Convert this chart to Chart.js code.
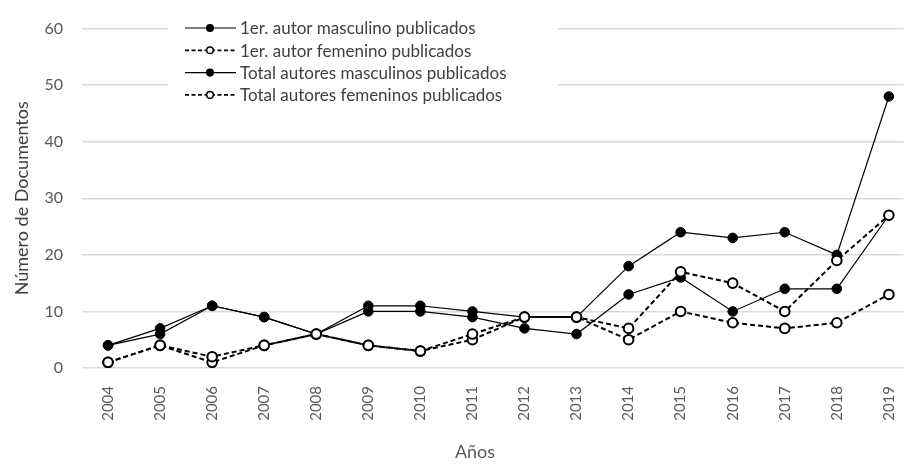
<!DOCTYPE html>
<html>
<head>
<meta charset="utf-8">
<script src="https://cdn.jsdelivr.net/npm/chart.js@4.4.0/dist/chart.umd.min.js"></script>
<style>
    html, body { margin: 0; padding: 0; background: #fff; }
    #wrap { width: 917px; height: 464px; position: relative; }
</style>
</head>
<body>
<div id="wrap"><canvas id="docsChart"></canvas></div>
<script>
// Values
const years = [2004, 2005, 2006, 2007, 2008, 2009, 2010, 2011, 2012, 2013, 2014, 2015, 2016, 2017, 2018, 2019];
const primerMasculino = [4, 6, 11, 9, 6, 10, 10, 9, 7, 6, 13, 16, 10, 14, 14, 27];
const primerFemenino = [1, 4, 1, 4, 6, 4, 3, 5, 9, 9, 5, 10, 8, 7, 8, 13];
const totalMasculinos = [4, 7, 11, 9, 6, 11, 11, 10, 9, 9, 18, 24, 23, 24, 20, 48];
const totalFemeninos = [1, 4, 2, 4, 6, 4, 3, 6, 9, 9, 7, 17, 15, 10, 19, 27];
const yTicks = [0, 10, 20, 30, 40, 50, 60];
const xTitle = 'Años';

const FONT = "'Lato', 'Open Sans', sans-serif";
const toPoints = vals => vals.map((v, i) => ({ x: years[i], y: v }));

function solidSeries(label, vals, order) {
    return {
        label: label,
        data: toPoints(vals),
        borderColor: '#000',
        borderWidth: 1.2,
        pointRadius: 4.8,
        pointBackgroundColor: '#000',
        pointBorderColor: '#000',
        pointBorderWidth: 1,
        tension: 0,
        order: order
    };
}

function dashedSeries(label, vals, order) {
    return {
        label: label,
        data: toPoints(vals),
        borderColor: '#000',
        borderWidth: 2,
        borderDash: [5, 3],
        pointRadius: 4.8,
        pointBackgroundColor: '#fff',
        pointBorderColor: '#000',
        pointBorderWidth: 2,
        tension: 0,
        order: order
    };
}

// Legend drawn inside the plot like the Excel box (line + marker + text), plus the x title
const boxLegend = {
    id: 'boxLegend',
    afterDatasetsDraw(chart) {
        const ctx = chart.ctx;
        ctx.save();
        ctx.fillStyle = '#fff';
        ctx.fillRect(168, 17, 390, 90);
        chart.data.datasets.forEach((ds, i) => {
            const y = 28 + i * 22.3;
            ctx.strokeStyle = '#000';
            ctx.lineWidth = ds.borderDash ? 1.8 : 1.2;
            ctx.setLineDash(ds.borderDash ? [4, 2.5] : []);
            ctx.beginPath();
            ctx.moveTo(185, y);
            ctx.lineTo(236, y);
            ctx.stroke();
            ctx.setLineDash([]);
            ctx.beginPath();
            ctx.arc(210, y, 3.3, 0, Math.PI * 2);
            ctx.fillStyle = ds.pointBackgroundColor;
            ctx.fill();
            ctx.lineWidth = 1.5;
            ctx.stroke();
            ctx.fillStyle = '#404040';
            ctx.font = '17px ' + FONT;
            ctx.textBaseline = 'middle';
            ctx.textAlign = 'left';
            ctx.fillText(ds.label, 240, y + 1);
        });
        // Excel places the axis title slightly left of the plot centre
        ctx.fillStyle = '#595959';
        ctx.font = '18px ' + FONT;
        ctx.textAlign = 'center';
        ctx.textBaseline = 'middle';
        ctx.fillText(xTitle, 475, 452);
        ctx.restore();
    }
};

const ctx = document.getElementById('docsChart').getContext('2d');
new Chart(ctx, {
    type: 'line',
    data: {
        datasets: [
            solidSeries('1er. autor masculino publicados', primerMasculino, 3),
            dashedSeries('1er. autor femenino publicados', primerFemenino, 2),
            solidSeries('Total autores masculinos publicados', totalMasculinos, 1),
            dashedSeries('Total autores femeninos publicados', totalFemeninos, 0)
        ]
    },
    options: {
        responsive: true,
        maintainAspectRatio: false,
        animation: false,
        layout: { padding: { top: 12, right: 0, bottom: 0, left: 0 } },
        plugins: {
            legend: { display: false },
            tooltip: { enabled: false }
        },
        scales: {
            x: {
                type: 'linear',
                min: 2003.5,
                max: 2019.28,
                afterBuildTicks: scale => { scale.ticks = years.map(y => ({ value: y })); },
                afterFit: scale => { scale.height = 96; },
                grid: { display: false },
                border: { display: false },
                ticks: {
                    minRotation: 90,
                    maxRotation: 90,
                    padding: 10,
                    color: '#595959',
                    font: { family: FONT, size: 15 },
                    callback: v => String(v)
                }
            },
            y: {
                min: 0,
                max: 60,
                afterBuildTicks: scale => { scale.ticks = yTicks.map(v => ({ value: v })); },
                afterFit: scale => { scale.width = 82; },
                grid: { color: '#d9d9d9', lineWidth: 1.5, drawTicks: false },
                border: { display: false },
                ticks: {
                    padding: 19,
                    color: '#595959',
                    font: { family: FONT, size: 16 }
                },
                title: {
                    display: true,
                    text: 'Número de Documentos',
                    color: '#404040',
                    font: { family: FONT, size: 18 },
                    padding: { top: 11, bottom: 0 }
                }
            }
        }
    },
    plugins: [boxLegend]
});
</script>
</body>
</html>
